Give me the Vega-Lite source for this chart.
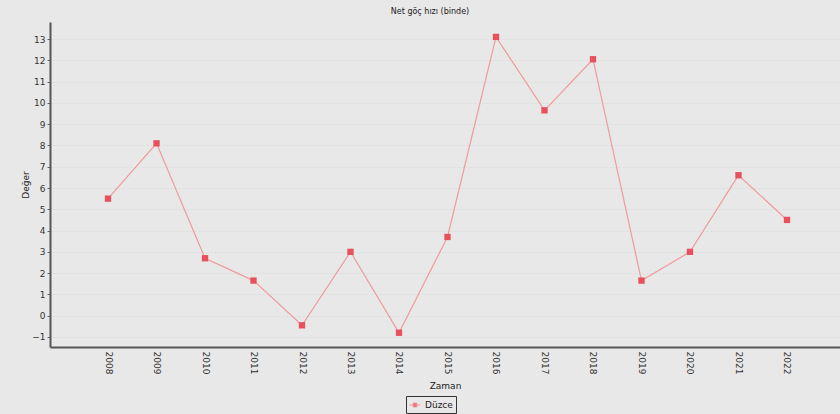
{
  "$schema": "https://vega.github.io/schema/vega-lite/v6.json",
  "autosize": {"type": "none"},
  "width": 790,
  "height": 325,
  "padding": {"left": 50, "top": 22, "right": 0, "bottom": 67},
  "background": "#e8e8e8",
  "config": {
    "font": "DejaVu Sans",
    "view": {"stroke": null, "fill": "#e8e8e8"}
  },
  "title": {
    "text": "Net göç hızı (binde)",
    "fontSize": 8,
    "fontWeight": "normal",
    "color": "#222",
    "anchor": "middle",
    "dx": -15,
    "offset": 6
  },
  "data": {
    "values": [
      {"Zaman": 2008, "Deger": 5.5, "Il": "Düzce"},
      {"Zaman": 2009, "Deger": 8.1, "Il": "Düzce"},
      {"Zaman": 2010, "Deger": 2.7, "Il": "Düzce"},
      {"Zaman": 2011, "Deger": 1.65, "Il": "Düzce"},
      {"Zaman": 2012, "Deger": -0.45, "Il": "Düzce"},
      {"Zaman": 2013, "Deger": 3.0, "Il": "Düzce"},
      {"Zaman": 2014, "Deger": -0.8, "Il": "Düzce"},
      {"Zaman": 2015, "Deger": 3.7, "Il": "Düzce"},
      {"Zaman": 2016, "Deger": 13.1, "Il": "Düzce"},
      {"Zaman": 2017, "Deger": 9.65, "Il": "Düzce"},
      {"Zaman": 2018, "Deger": 12.05, "Il": "Düzce"},
      {"Zaman": 2019, "Deger": 1.65, "Il": "Düzce"},
      {"Zaman": 2020, "Deger": 3.0, "Il": "Düzce"},
      {"Zaman": 2021, "Deger": 6.6, "Il": "Düzce"},
      {"Zaman": 2022, "Deger": 4.5, "Il": "Düzce"}
    ]
  },
  "encoding": {
    "x": {
      "field": "Zaman",
      "type": "quantitative",
      "scale": {"domain": [2006.804, 2023.093], "nice": false, "zero": false},
      "axis": {
        "title": "Zaman",
        "titleFontSize": 9,
        "titleFontWeight": "normal",
        "titleColor": "#222",
        "titlePadding": 8,
        "values": [2008, 2009, 2010, 2011, 2012, 2013, 2014, 2015, 2016, 2017, 2018, 2019, 2020, 2021, 2022],
        "format": "d",
        "labelAngle": 90,
        "labelAlign": "left",
        "labelBaseline": "middle",
        "labelFontSize": 9,
        "labelColor": "#333",
        "labelPadding": 4,
        "labelFlush": false,
        "labelOverlap": false,
        "ticks": false,
        "domainColor": "#555",
        "domainWidth": 2,
        "grid": false
      }
    },
    "y": {
      "field": "Deger",
      "type": "quantitative",
      "scale": {"domain": [-1.47, 13.8], "nice": false, "zero": false},
      "axis": {
        "title": "Değer",
        "titleFontSize": 9,
        "titleFontWeight": "normal",
        "titleColor": "#222",
        "titlePadding": 1,
        "values": [-1, 0, 1, 2, 3, 4, 5, 6, 7, 8, 9, 10, 11, 12, 13],
        "labelFontSize": 9,
        "labelColor": "#333",
        "tickSize": 3,
        "tickColor": "#666",
        "labelPadding": 2,
        "domainColor": "#555",
        "domainWidth": 2,
        "gridColor": "#dcdcdc",
        "gridDash": [2, 2],
        "gridWidth": 1
      }
    }
  },
  "layer": [
    {
      "mark": {"type": "line", "color": "#f09a9a", "strokeWidth": 1.2}
    },
    {
      "mark": {"type": "square", "size": 40, "filled": true, "opacity": 1},
      "encoding": {
        "color": {
          "field": "Il",
          "type": "nominal",
          "scale": {"range": ["#e8505b"]},
          "legend": {
            "title": null,
            "orient": "none",
            "legendX": 356,
            "legendY": 374,
            "strokeColor": "#333",
            "padding": 3,
            "labelFontSize": 9,
            "labelColor": "#222",
            "symbolType": "M-1,0H1M-0.35,-0.35H0.35V0.35H-0.35Z",
            "symbolSize": 120,
            "symbolFillColor": "#e8505b",
            "symbolStrokeColor": "#f09a9a",
            "symbolStrokeWidth": 1
          }
        }
      }
    }
  ]
}
